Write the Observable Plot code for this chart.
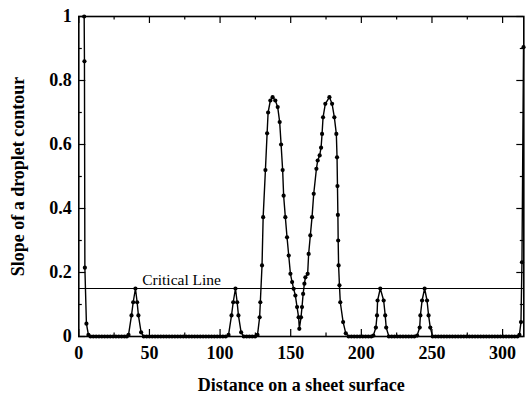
<!DOCTYPE html>
<html><head><meta charset="utf-8">
<script src="https://cdn.jsdelivr.net/npm/d3@7"></script>
<script src="https://cdn.jsdelivr.net/npm/@observablehq/plot@0.6"></script>
<style>body{margin:0;background:#fff}</style>
</head><body><div id="chart"></div>
<script>
// Distance on a sheet surface (x) and slope of a droplet contour (y)
const distance = [
  3.8, 4.0, 4.3, 5.4, 6.8, 8.3,
  10.3, 12.3, 14.3, 16.3, 18.3, 20.3, 22.3, 24.3, 26.3, 28.3, 30.3, 32.3, 34,
  35.2, 37.3, 38.5, 40.1, 41.3, 42.2, 44.1, 46,
  48, 50, 52, 54, 56, 58, 60, 62, 64, 66, 68, 70, 72, 74, 76, 78, 80, 82, 84, 86, 88, 90, 92, 94, 96, 98, 100, 102, 104,
  106, 108.1, 109.3, 110.9, 112.1, 113, 114.9, 116.8,
  118.8, 120.8, 122.8, 124.8,
  126.5, 128, 128.5, 129.7, 130.5, 132.1, 133.3, 134, 135.6, 137.2, 139.1, 140.8, 142.2, 143.2, 144.3, 145, 146.2, 147.4,
  148.6, 149.8, 151, 152.1, 153.3, 154.5, 155.6, 156.1, 157.3, 158, 158.8, 159.7, 160.4, 162, 162.7, 163.9, 165.1, 166.3,
  168.2, 169.1, 170.5, 171.5, 172.2, 172.9, 174.5, 177.4, 179.3, 180.9, 182.3, 182.8, 183.1, 183.4, 183.6, 183.9, 184.5,
  185.1, 187.1, 189, 191,
  193, 195, 197, 199, 201, 203, 205, 207,
  208.5, 210.3, 211.1, 211.5, 213.4, 215.8, 216.9, 217.6, 219.5,
  221.5, 223.5, 225.5, 227.5, 229.5, 231.5, 233.5, 235.5, 237.5,
  239.5, 241.3, 241.8, 243, 244.8, 246.5, 247.6, 248.8, 250.5,
  252.5, 254.5, 256.5, 258.5, 260.5, 262.5, 264.5, 266.5, 268.5, 270.5, 272.5, 274.5, 276.5, 278.5, 280.5,
  282.5, 284.5, 286.5, 288.5, 290.5, 292.5, 294.5, 296.5, 298.5, 300.5, 302.5, 304.5, 306.5, 308.5, 310.5,
  311.9, 313, 313.7, 314.8
];
const slope = [
  1.0, 0.86, 0.215, 0.04, 0.005, 0,
  0, 0, 0, 0, 0, 0, 0, 0, 0, 0, 0, 0, 0,
  0.005, 0.066, 0.107, 0.15, 0.107, 0.066, 0.013, 0,
  0, 0, 0, 0, 0, 0, 0, 0, 0, 0, 0, 0, 0, 0, 0, 0, 0, 0, 0, 0, 0, 0, 0, 0, 0, 0, 0, 0, 0,
  0.005, 0.066, 0.107, 0.15, 0.107, 0.066, 0.013, 0,
  0, 0, 0, 0,
  0.005, 0.06, 0.107, 0.222, 0.373, 0.52, 0.635, 0.70, 0.7375, 0.748, 0.7375, 0.717, 0.67, 0.60, 0.52, 0.44, 0.373, 0.31,
  0.253, 0.196, 0.17, 0.149, 0.128, 0.092, 0.06, 0.024, 0.06, 0.092, 0.133, 0.165, 0.185, 0.196, 0.258, 0.316, 0.373, 0.446,
  0.524, 0.55, 0.566, 0.59, 0.633, 0.685, 0.727, 0.748, 0.727, 0.685, 0.633, 0.56, 0.47, 0.38, 0.30, 0.222, 0.16,
  0.107, 0.045, 0.01, 0,
  0, 0, 0, 0, 0, 0, 0, 0,
  0.003, 0.028, 0.066, 0.1125, 0.15, 0.1125, 0.066, 0.028, 0,
  0, 0, 0, 0, 0, 0, 0, 0, 0,
  0.003, 0.028, 0.066, 0.1125, 0.15, 0.1125, 0.066, 0.028, 0,
  0, 0, 0, 0, 0, 0, 0, 0, 0, 0, 0, 0, 0, 0, 0,
  0, 0, 0, 0, 0, 0, 0, 0, 0, 0, 0, 0, 0, 0, 0,
  0.005, 0.045, 0.232, 0.904
];
const xMajorTicks = [0, 50, 100, 150, 200, 250, 300];
const xMinorTicks = [25, 75, 125, 175, 225, 275];
const yMajorTicks = [0, 0.2, 0.4, 0.6, 0.8, 1];
const yMinorTicks = [0.1, 0.3, 0.5, 0.7, 0.9];
const criticalValue = [0.15];
const criticalLabel = ["Critical Line"];
const criticalLabelPos = [{x: 44.9, y: 0.178}];
const xTitle = "Distance on a sheet surface";
const yTitle = "Slope of a droplet contour";

const data = distance.map((d, i) => ({x: d, y: slope[i]}));
const xDomain = [0, 315];
const yDomain = [0, 1];
const W = 530, H = 396;
const mL = 78.3, mR = 6.7, mT = 16, mB = 60;
const pxX = (W - mL - mR) / (xDomain[1] - xDomain[0]);
const pxY = (H - mT - mB) / (yDomain[1] - yDomain[0]);
const majX = 7 / pxY, minX = 3.5 / pxY; // tick lengths on x axes (in y units)
const majY = 7 / pxX, minY = 3.5 / pxX; // tick lengths on y axes (in x units)
const serif = "'Liberation Serif', 'Times New Roman', serif";

const chart = Plot.plot({
  width: W, height: H,
  marginLeft: mL, marginRight: mR, marginTop: mT, marginBottom: mB,
  style: {fontFamily: serif, background: "#fff", color: "#000"},
  x: {domain: xDomain},
  y: {domain: yDomain},
  marks: [
    Plot.ruleY(criticalValue, {stroke: "#000", strokeWidth: 1.1}),
    Plot.text(criticalLabelPos, {x: "x", y: "y", text: () => criticalLabel[0], textAnchor: "start", fontSize: 15.5, fontFamily: serif, fill: "#000"}),
    Plot.line(data, {x: "x", y: "y", stroke: "#000", strokeWidth: 1.4}),
    Plot.dot(data, {x: "x", y: "y", r: 2.1, fill: "#000", stroke: "none"}),
    // inward ticks: bottom / top
    Plot.ruleX(xMajorTicks, {y1: yDomain[0], y2: yDomain[0] + majX, stroke: "#000", strokeWidth: 1.2}),
    Plot.ruleX(xMinorTicks, {y1: yDomain[0], y2: yDomain[0] + minX, stroke: "#000", strokeWidth: 1.2}),
    Plot.ruleX(xMajorTicks, {y1: yDomain[1], y2: yDomain[1] - majX, stroke: "#000", strokeWidth: 1.2}),
    Plot.ruleX(xMinorTicks, {y1: yDomain[1], y2: yDomain[1] - minX, stroke: "#000", strokeWidth: 1.2}),
    // inward ticks: left / right
    Plot.ruleY(yMajorTicks, {x1: xDomain[0], x2: xDomain[0] + majY, stroke: "#000", strokeWidth: 1.2}),
    Plot.ruleY(yMinorTicks, {x1: xDomain[0], x2: xDomain[0] + minY, stroke: "#000", strokeWidth: 1.2}),
    Plot.ruleY(yMajorTicks, {x1: xDomain[1], x2: xDomain[1] - majY, stroke: "#000", strokeWidth: 1.2}),
    Plot.ruleY(yMinorTicks, {x1: xDomain[1], x2: xDomain[1] - minY, stroke: "#000", strokeWidth: 1.2}),
    Plot.axisX(xMajorTicks, {anchor: "bottom", tickSize: 0, tickPadding: 10, tickFormat: d => String(d),
      fontSize: 18, fontWeight: "bold", fontFamily: serif,
      label: xTitle, labelAnchor: "center", labelOffset: 54, labelArrow: "none"}),
    Plot.axisY(yMajorTicks, {anchor: "left", tickSize: 0, tickPadding: 7, tickFormat: d => String(d),
      fontSize: 18, fontWeight: "bold", fontFamily: serif,
      label: yTitle, labelAnchor: "center", labelOffset: 68, labelArrow: "none"}),
    Plot.frame({stroke: "#000", strokeWidth: 1.6})
  ]
});
document.getElementById("chart").append(chart);
</script>
</body></html>
